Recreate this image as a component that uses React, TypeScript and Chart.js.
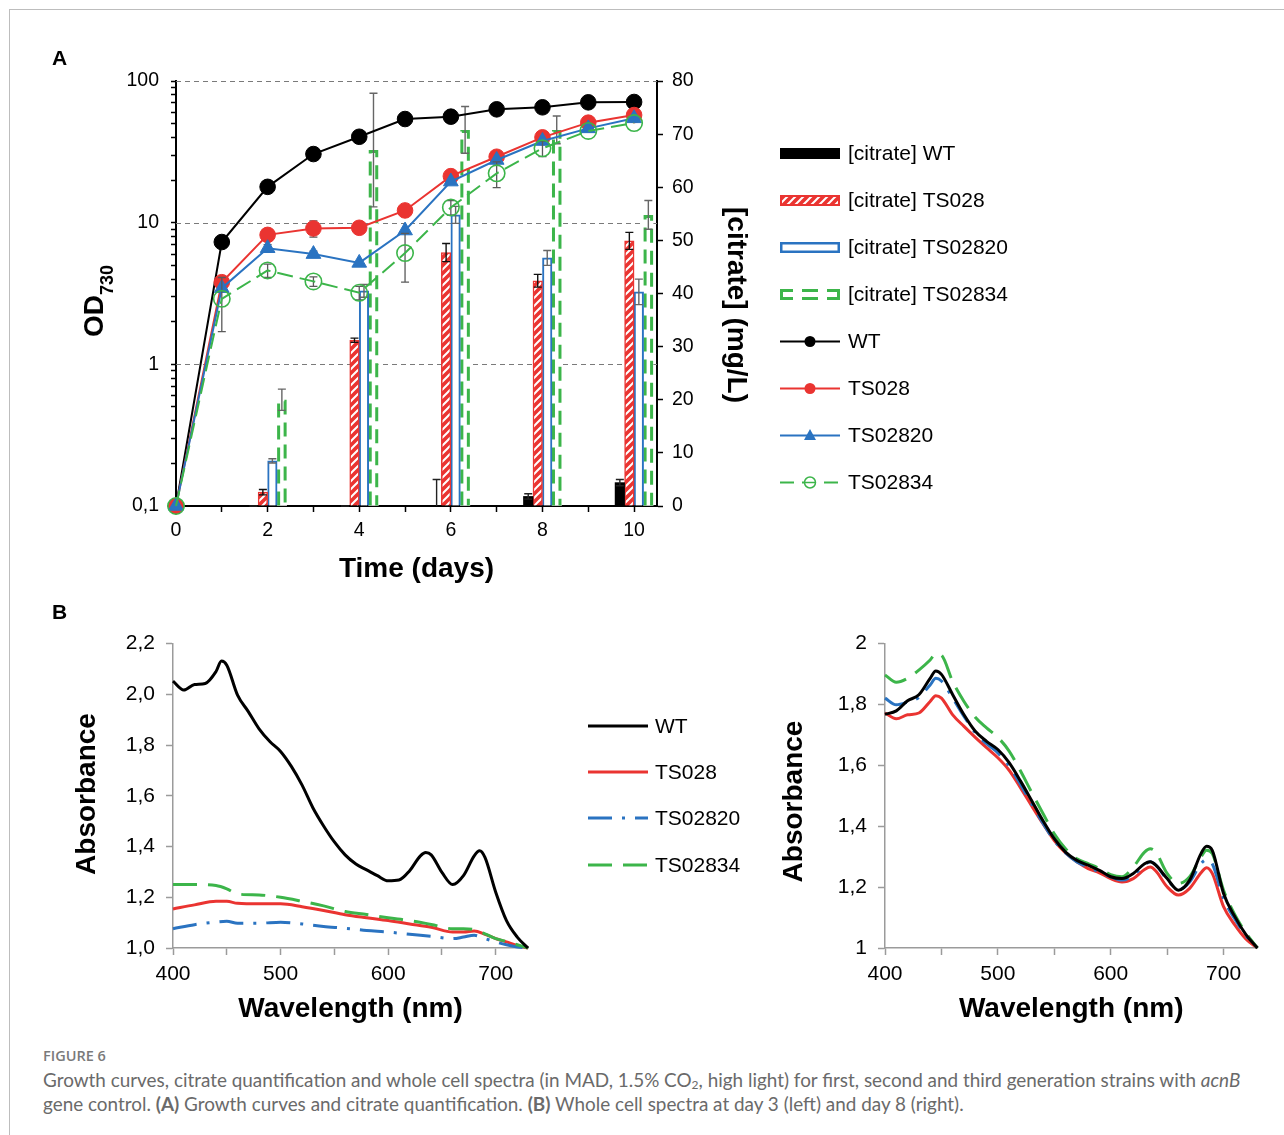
import React, { useEffect, useRef } from "react";
import { Chart, registerables } from "chart.js";

Chart.register(...registerables);

const FONT = '"Liberation Sans", Arial, Helvetica, sans-serif';
Chart.defaults.font.family = FONT;
Chart.defaults.color = "#000";

const RED = "#ea3431";
const BLUE = "#2a73c1";
const GREEN = "#3cb54a";
const AXIS_GRAY = "#9b9b9b";

// ---------- Panel A: growth (OD730, log axis) ----------
const days = [0, 1, 2, 3, 4, 5, 6, 7, 8, 9, 10];
const odWT = [0.1, 7.3, 17.9, 30.5, 40.4, 53.9, 56.0, 63.1, 65.2, 70.7, 71.1];
const odTS028 = [0.1, 3.8, 8.2, 9.1, 9.2, 12.2, 21.3, 29.2, 40.0, 50.8, 57.5];
const odTS028Err = [0, 0, 0.3, 1.2, 0, 0, 0, 0, 0, 0, 0];
const odTS02820 = [0.1, 3.45, 6.6, 6.0, 5.2, 8.8, 19.5, 27.7, 37.7, 46.3, 54.5];
const odTS02820Err = [0, 0, 0.4, 0.3, 0, 0, 0, 0, 0, 0, 0];
const odTS02834 = [0.1, 2.9, 4.6, 3.85, 3.2, 6.1, 12.8, 22.3, 33.5, 44.4, 50.5];
const odTS02834Err = [0, 1.2, 0.5, 0.3, 0.35, 2.3, 1.5, 4.6, 4.2, 0, 0];

// ---------- Panel A: citrate bars (mg/L) ----------
const barDays = [2, 4, 6, 8, 10];
const citWT = [0, 0, 0, 1.8, 4.4];
const citWTErr = [0, 0, 5, 0.5, 0.6];
const citTS028 = [2.6, 31.2, 47.7, 42.4, 49.9];
const citTS028Err = [0.5, 0.4, 1.7, 1.2, 1.6];
const citTS02820 = [8.5, 40.5, 54.8, 46.7, 40.3];
const citTS02820Err = [0.4, 1.2, 1.6, 1.4, 2.4];
const citTS02834 = [20.0, 67.0, 70.8, 70.8, 54.8];
const citTS02834Err = [2.0, 10.7, 4.4, 2.6, 2.7];

// ---------- Panel A ticks ----------
const dayTicks = [0, 1, 2, 3, 4, 5, 6, 7, 8, 9, 10];
const dayTickLabels = ["0", "", "2", "", "4", "", "6", "", "8", "", "10"];
const odDecades = [0.1, 1, 10, 100];
const odDecadeLabels = ["0,1", "1", "10", "100"];
const odMantissas = [1, 2, 3, 4, 5, 6, 7, 8, 9];
const citTicks = [0, 10, 20, 30, 40, 50, 60, 70, 80];
const citTickLabels = ["0", "10", "20", "30", "40", "50", "60", "70", "80"];

// ---------- Panel B: spectra ----------
const wlFine = [400, 410, 420, 430, 440, 445, 450, 460, 470, 480, 490, 500, 510, 520, 530, 540, 550, 560, 570, 580, 590, 600, 610, 620, 630, 635, 640, 650, 660, 670, 680, 685, 690, 700, 710, 720, 730];
const wlCoarse = [400, 420, 440, 450, 460, 480, 500, 520, 540, 560, 580, 600, 620, 640, 660, 670, 680, 690, 700, 710, 720, 730];

const day3WT = [2.052, 2.017, 2.039, 2.043, 2.09, 2.131, 2.115, 1.997, 1.932, 1.864, 1.814, 1.775, 1.716, 1.642, 1.553, 1.481, 1.418, 1.367, 1.331, 1.308, 1.285, 1.265, 1.268, 1.305, 1.363, 1.376, 1.367, 1.298, 1.25, 1.285, 1.363, 1.383, 1.357, 1.22, 1.108, 1.043, 1.0];
const day3TS028 = [1.154, 1.17, 1.184, 1.184, 1.176, 1.174, 1.174, 1.163, 1.148, 1.131, 1.119, 1.108, 1.095, 1.082, 1.063, 1.063, 1.067, 1.054, 1.037, 1.024, 1.01, 1.0];
const day3TS02820 = [1.076, 1.092, 1.102, 1.105, 1.098, 1.098, 1.102, 1.095, 1.085, 1.078, 1.069, 1.063, 1.054, 1.046, 1.037, 1.043, 1.05, 1.037, 1.024, 1.013, 1.004, 1.0];
const day3TS02834 = [1.25, 1.25, 1.246, 1.233, 1.213, 1.209, 1.2, 1.184, 1.166, 1.144, 1.132, 1.119, 1.108, 1.093, 1.076, 1.076, 1.072, 1.056, 1.037, 1.026, 1.013, 1.0];

const day8WT = [1.768, 1.779, 1.812, 1.832, 1.886, 1.91, 1.899, 1.832, 1.766, 1.712, 1.679, 1.652, 1.609, 1.549, 1.484, 1.418, 1.359, 1.315, 1.288, 1.272, 1.255, 1.234, 1.228, 1.245, 1.277, 1.283, 1.272, 1.228, 1.19, 1.223, 1.31, 1.334, 1.321, 1.179, 1.103, 1.043, 1.0];
const day8TS028 = [1.772, 1.753, 1.766, 1.772, 1.81, 1.829, 1.821, 1.766, 1.728, 1.692, 1.658, 1.625, 1.584, 1.527, 1.467, 1.408, 1.353, 1.312, 1.283, 1.261, 1.247, 1.228, 1.217, 1.228, 1.258, 1.266, 1.253, 1.201, 1.174, 1.196, 1.247, 1.264, 1.245, 1.136, 1.076, 1.029, 1.0];
const day8TS02820 = [1.821, 1.799, 1.808, 1.823, 1.864, 1.886, 1.877, 1.821, 1.761, 1.707, 1.671, 1.641, 1.598, 1.538, 1.473, 1.41, 1.353, 1.312, 1.283, 1.266, 1.25, 1.234, 1.223, 1.239, 1.272, 1.283, 1.272, 1.225, 1.192, 1.217, 1.277, 1.29, 1.277, 1.163, 1.095, 1.04, 1.0];
const day8TS02834 = [1.897, 1.873, 1.886, 1.913, 1.946, 1.967, 1.962, 1.875, 1.81, 1.758, 1.723, 1.692, 1.647, 1.582, 1.511, 1.442, 1.375, 1.326, 1.293, 1.277, 1.261, 1.241, 1.234, 1.266, 1.315, 1.326, 1.315, 1.245, 1.212, 1.234, 1.299, 1.321, 1.31, 1.19, 1.109, 1.049, 1.0];

const wlTicks = [400, 450, 500, 550, 600, 650, 700];
const wlTickLabels = ["400", "", "500", "", "600", "", "700"];
const absLeftTicks = [1.0, 1.2, 1.4, 1.6, 1.8, 2.0, 2.2];
const absLeftLabels = ["1,0", "1,2", "1,4", "1,6", "1,8", "2,0", "2,2"];
const absRightTicks = [1.0, 1.2, 1.4, 1.6, 1.8, 2.0];
const absRightLabels = ["1", "1,2", "1,4", "1,6", "1,8", "2"];

const strainLabels = ["WT", "TS028", "TS02820", "TS02834"];

// ---------- helpers ----------
let hatchPattern: any = null;
function getHatch(): any {
  if (hatchPattern) return hatchPattern;
  const c = document.createElement("canvas");
  c.width = 8;
  c.height = 8;
  const g = c.getContext("2d") as CanvasRenderingContext2D;
  g.fillStyle = RED;
  g.fillRect(0, 0, 8, 8);
  g.strokeStyle = "#ffffff";
  g.lineWidth = 2;
  g.beginPath();
  g.moveTo(0, 8);
  g.lineTo(8, 0);
  g.moveTo(-2, 2);
  g.lineTo(2, -2);
  g.moveTo(6, 10);
  g.lineTo(10, 6);
  g.stroke();
  hatchPattern = g.createPattern(c, "repeat");
  return hatchPattern;
}

function errBar(ctx: CanvasRenderingContext2D, x: number, yTop: number, yBot: number, capTop: boolean, capBot: boolean, color: string, lw: number, cap: number) {
  ctx.save();
  ctx.setLineDash([]);
  ctx.strokeStyle = color;
  ctx.lineWidth = lw;
  ctx.beginPath();
  ctx.moveTo(x, yTop);
  ctx.lineTo(x, yBot);
  if (capTop) {
    ctx.moveTo(x - cap / 2, yTop);
    ctx.lineTo(x + cap / 2, yTop);
  }
  if (capBot) {
    ctx.moveTo(x - cap / 2, yBot);
    ctx.lineTo(x + cap / 2, yBot);
  }
  ctx.stroke();
  ctx.restore();
}

const lineErrors: Record<string, number[]> = {
  TS028: odTS028Err,
  TS02820: odTS02820Err,
  TS02834: odTS02834Err,
};
const barErrors: Record<string, { err: number[]; color: string }> = {
  "[citrate] WT": { err: citWTErr, color: "#222" },
  "[citrate] TS028": { err: citTS028Err, color: "#111" },
  "[citrate] TS02820": { err: citTS02820Err, color: "#666" },
  "[citrate] TS02834": { err: citTS02834Err, color: "#666" },
};

function drawRotated(ctx: CanvasRenderingContext2D, text: string, x: number, y: number, angle: number, font: string) {
  ctx.save();
  ctx.translate(x, y);
  ctx.rotate(angle);
  ctx.font = font;
  ctx.fillStyle = "#000";
  ctx.textAlign = "center";
  ctx.textBaseline = "alphabetic";
  ctx.fillText(text, 0, 0);
  ctx.restore();
}

// ---------- Panel A plugin ----------
const panelAPlugin = {
  id: "panelA",
  beforeDatasetsDraw(chart: any) {
    const ctx = chart.ctx as CanvasRenderingContext2D;
    const y = chart.scales.y;
    const { left, right } = chart.chartArea;
    ctx.save();
    ctx.strokeStyle = "#7a7a7a";
    ctx.lineWidth = 1.2;
    ctx.setLineDash([5, 4]);
    [1, 10, 100].forEach((v) => {
      const py = Math.round(y.getPixelForValue(v)) + 0.5;
      ctx.beginPath();
      ctx.moveTo(left, py);
      ctx.lineTo(right, py);
      ctx.stroke();
    });
    ctx.restore();
  },
  beforeDatasetDraw(chart: any, args: any) {
    const ds = chart.data.datasets[args.index];
    const errs = lineErrors[ds.label];
    if (!errs || ds.type !== "line") return;
    const ctx = chart.ctx as CanvasRenderingContext2D;
    const y = chart.scales.y;
    args.meta.data.forEach((pt: any, i: number) => {
      const e = errs[i];
      if (!e) return;
      const v = ds.data[i].y;
      errBar(ctx, pt.x, y.getPixelForValue(v + e), y.getPixelForValue(v - e), true, true, "#5a5a5a", 1.3, 8);
    });
  },
  afterDatasetDraw(chart: any, args: any) {
    const ds = chart.data.datasets[args.index];
    const spec = barErrors[ds.label];
    if (!spec) return;
    const ctx = chart.ctx as CanvasRenderingContext2D;
    const y1 = chart.scales.y1;
    args.meta.data.forEach((el: any, i: number) => {
      const p = el.getProps(["x", "y", "base", "width"], true);
      if (ds.label === "[citrate] TS02834") {
        const x0 = p.x - p.width / 2 + 1.5;
        const x1 = p.x + p.width / 2 - 1.5;
        const top = p.y + 1.5;
        ctx.save();
        ctx.strokeStyle = GREEN;
        ctx.lineWidth = 3;
        ctx.setLineDash([14, 8]);
        ctx.beginPath();
        ctx.moveTo(x0, p.base);
        ctx.lineTo(x0, top);
        ctx.lineTo(x1, top);
        ctx.lineTo(x1, p.base);
        ctx.stroke();
        ctx.restore();
      }
      const v = ds.data[i].y;
      const e = spec.err[i];
      const low = Math.max(0, v - e);
      errBar(ctx, p.x, y1.getPixelForValue(v + e), y1.getPixelForValue(low), true, v - e >= 0, spec.color, 1.4, 8);
    });
  },
  afterDraw(chart: any) {
    const ctx = chart.ctx as CanvasRenderingContext2D;
    const { left, right } = chart.chartArea;
    ctx.save();
    ctx.fillStyle = "#000";
    ctx.font = `bold 28px ${FONT}`;
    ctx.textAlign = "center";
    ctx.textBaseline = "alphabetic";
    ctx.fillText("Time (days)", (left + right) / 2, 577);
    ctx.restore();

    // OD730 (rotated, with subscript)
    ctx.save();
    ctx.translate(103, 301);
    ctx.rotate(-Math.PI / 2);
    ctx.fillStyle = "#000";
    ctx.textBaseline = "alphabetic";
    ctx.textAlign = "left";
    ctx.font = `bold 28px ${FONT}`;
    const wOD = ctx.measureText("OD").width;
    ctx.font = `bold 18px ${FONT}`;
    const wSub = ctx.measureText("730").width;
    const start = -(wOD + wSub) / 2;
    ctx.font = `bold 28px ${FONT}`;
    ctx.fillText("OD", start, 0);
    ctx.font = `bold 18px ${FONT}`;
    ctx.fillText("730", start + wOD, 10);
    ctx.restore();

    drawRotated(ctx, "[citrate] (mg/L)", 728, 305, Math.PI / 2, `bold 28px ${FONT}`);

    // legend
    const lx = 780;
    const lw = 60;
    const tx = 848;
    const rows = [153.5, 200.5, 247.5, 294.5, 341.5, 388.5, 435.5, 482.5];
    const labels = chart.data.datasets.map((d: any) => d.label);
    ctx.save();
    ctx.font = `21px ${FONT}`;
    ctx.fillStyle = "#000";
    ctx.textAlign = "left";
    ctx.textBaseline = "middle";
    labels.forEach((lab: string, i: number) => ctx.fillText(lab, tx, rows[i] + 1));
    ctx.restore();

    const h = 11;
    ctx.save();
    ctx.fillStyle = "#000";
    ctx.fillRect(lx, rows[0] - h / 2, lw, h);
    ctx.fillStyle = getHatch();
    ctx.fillRect(lx, rows[1] - h / 2, lw, h);
    ctx.strokeStyle = RED;
    ctx.lineWidth = 2;
    ctx.strokeRect(lx + 1, rows[1] - h / 2 + 1, lw - 2, h - 2);
    ctx.strokeStyle = BLUE;
    ctx.lineWidth = 2.5;
    ctx.strokeRect(lx + 1.25, rows[2] - h / 2 + 1.25, lw - 2.5, h - 2.5);
    // green dashed box: brackets at ends, dashes in the middle
    ctx.strokeStyle = GREEN;
    ctx.lineWidth = 3;
    const gt = rows[3] - h / 2 + 1.5;
    const gb = rows[3] + h / 2 - 1.5;
    ctx.beginPath();
    ctx.moveTo(lx + 13, gt);
    ctx.lineTo(lx + 1.5, gt);
    ctx.lineTo(lx + 1.5, gb);
    ctx.lineTo(lx + 13, gb);
    ctx.moveTo(lx + 22, gt);
    ctx.lineTo(lx + 38, gt);
    ctx.moveTo(lx + 22, gb);
    ctx.lineTo(lx + 38, gb);
    ctx.moveTo(lx + 47, gt);
    ctx.lineTo(lx + lw - 1.5, gt);
    ctx.lineTo(lx + lw - 1.5, gb);
    ctx.lineTo(lx + 47, gb);
    ctx.stroke();
    ctx.restore();

    const lineRow = (y: number, color: string, dash: number[], marker: string) => {
      ctx.save();
      ctx.strokeStyle = color;
      ctx.lineWidth = 2;
      ctx.setLineDash(dash);
      ctx.beginPath();
      ctx.moveTo(lx, y);
      ctx.lineTo(lx + lw, y);
      ctx.stroke();
      ctx.setLineDash([]);
      const cx = lx + lw / 2;
      ctx.fillStyle = color;
      if (marker === "circle") {
        ctx.beginPath();
        ctx.arc(cx, y, 5.5, 0, Math.PI * 2);
        ctx.fill();
      } else if (marker === "triangle") {
        ctx.beginPath();
        ctx.moveTo(cx, y - 6.5);
        ctx.lineTo(cx + 6, y + 4.5);
        ctx.lineTo(cx - 6, y + 4.5);
        ctx.closePath();
        ctx.fill();
      } else {
        ctx.fillStyle = "#fff";
        ctx.beginPath();
        ctx.arc(cx, y, 5.5, 0, Math.PI * 2);
        ctx.fill();
        ctx.lineWidth = 1.5;
        ctx.stroke();
        ctx.beginPath();
        ctx.moveTo(cx - 5.5, y);
        ctx.lineTo(cx + 5.5, y);
        ctx.stroke();
      }
      ctx.restore();
    };
    lineRow(rows[4], "#000", [], "circle");
    lineRow(rows[5], RED, [], "circle");
    lineRow(rows[6], BLUE, [], "triangle");
    lineRow(rows[7], GREEN, [14, 8], "open");
  },
};

function buildA(): any {
  const hatch = getHatch();
  const bar = (label: string, vals: number[], extra: any) => ({
    type: "bar",
    label,
    xAxisID: "x",
    yAxisID: "y1",
    barThickness: 9.5,
    order: 10,
    borderSkipped: "start",
    data: barDays.map((d, i) => ({ x: d, y: vals[i] })),
    ...extra,
  });
  const line = (label: string, vals: number[], extra: any) => ({
    type: "line",
    label,
    xAxisID: "x",
    yAxisID: "y",
    clip: false,
    borderWidth: 2,
    tension: 0,
    data: days.map((d, i) => ({ x: d, y: vals[i] })),
    ...extra,
  });
  return {
    type: "bar",
    data: {
      datasets: [
        bar("[citrate] WT", citWT, { backgroundColor: "#000", borderWidth: 0 }),
        bar("[citrate] TS028", citTS028, { backgroundColor: hatch, borderColor: RED, borderWidth: 1.5 }),
        bar("[citrate] TS02820", citTS02820, { backgroundColor: "#fff", borderColor: BLUE, borderWidth: 2 }),
        bar("[citrate] TS02834", citTS02834, { backgroundColor: "#fff", borderWidth: 0 }),
        line("WT", odWT, { order: 4, borderColor: "#000", pointStyle: "circle", pointRadius: 7.8, pointBackgroundColor: "#000", pointBorderColor: "#000", pointBorderWidth: 1 }),
        line("TS028", odTS028, { order: 3, borderColor: RED, pointStyle: "circle", pointRadius: 7.8, pointBackgroundColor: RED, pointBorderColor: RED, pointBorderWidth: 1 }),
        line("TS02820", odTS02820, { order: 2, borderColor: BLUE, pointStyle: "triangle", pointRadius: 8.5, pointBackgroundColor: BLUE, pointBorderColor: BLUE, pointBorderWidth: 1 }),
        line("TS02834", odTS02834, { order: 1, borderColor: GREEN, borderDash: [16, 7], pointStyle: "circle", pointRadius: 8.2, pointBackgroundColor: "rgba(255,255,255,0)", pointBorderColor: GREEN, pointBorderWidth: 1.6 }),
      ],
    },
    options: {
      responsive: false,
      animation: false,
      events: [],
      layout: { padding: { left: 60, top: 81, right: 567, bottom: 0 } },
      plugins: { legend: { display: false }, tooltip: { enabled: false } },
      scales: {
        x: {
          type: "linear",
          position: "bottom",
          min: 0,
          max: 10.5,
          offset: false,
          afterBuildTicks: (s: any) => {
            s.ticks = dayTicks.map((v) => ({ value: v }));
          },
          ticks: {
            autoSkip: false,
            maxRotation: 0,
            padding: 7,
            font: { size: 19.5 },
            color: "#000",
            callback: (_v: any, i: number) => dayTickLabels[i],
          },
          grid: { drawOnChartArea: false, offset: false, tickLength: 6, tickColor: "#000", tickWidth: 1.5 },
          border: { color: "#000", width: 2 },
          afterFit: (s: any) => {
            s.height = 94;
          },
        },
        y: {
          type: "logarithmic",
          position: "left",
          min: 0.1,
          max: 100,
          afterBuildTicks: (s: any) => {
            const vals: number[] = [];
            odDecades.slice(0, 3).forEach((d) => odMantissas.forEach((m) => vals.push(Number((m * d).toPrecision(6)))));
            vals.push(100);
            s.ticks = vals.map((v) => ({ value: v }));
          },
          ticks: {
            autoSkip: false,
            padding: 12,
            font: { size: 19.5 },
            color: "#000",
            callback: (v: any) => {
              const k = odDecades.findIndex((d) => Math.abs(d - Number(v)) < 1e-9);
              return k >= 0 ? odDecadeLabels[k] : "";
            },
          },
          grid: { drawOnChartArea: false, tickLength: 5, tickColor: "#000", tickWidth: 1.5 },
          border: { color: "#000", width: 2 },
          afterFit: (s: any) => {
            s.width = 116;
          },
        },
        y1: {
          type: "linear",
          position: "right",
          min: 0,
          max: 80,
          afterBuildTicks: (s: any) => {
            s.ticks = citTicks.map((v) => ({ value: v }));
          },
          ticks: {
            autoSkip: false,
            padding: 9,
            font: { size: 19.5 },
            color: "#000",
            callback: (_v: any, i: number) => citTickLabels[i],
          },
          grid: { drawOnChartArea: false, tickLength: 6, tickColor: "#000", tickWidth: 1.5 },
          border: { color: "#000", width: 2 },
          afterFit: (s: any) => {
            s.width = 60;
          },
        },
      },
    },
    plugins: [panelAPlugin],
  };
}

// ---------- Panel B ----------
function makeSpectraPlugin(absX: number, absY: number, showLegend: boolean) {
  return {
    id: "spectra",
    afterDraw(chart: any) {
      const ctx = chart.ctx as CanvasRenderingContext2D;
      const { left, right } = chart.chartArea;
      drawRotated(ctx, "Absorbance", absX, absY, -Math.PI / 2, `bold 28px ${FONT}`);
      ctx.save();
      ctx.font = `bold 28px ${FONT}`;
      ctx.fillStyle = "#000";
      ctx.textAlign = "center";
      ctx.textBaseline = "alphabetic";
      ctx.fillText("Wavelength (nm)", (left + right) / 2, 397);
      ctx.restore();
      if (!showLegend) return;
      const rows = [106, 152, 198, 245];
      chart.data.datasets.forEach((ds: any, i: number) => {
        const y = rows[i];
        ctx.save();
        ctx.strokeStyle = ds.borderColor;
        ctx.lineWidth = 3;
        ctx.setLineDash(ds.borderDash || []);
        ctx.beginPath();
        ctx.moveTo(588, y);
        ctx.lineTo(648, y);
        ctx.stroke();
        ctx.setLineDash([]);
        ctx.font = `21px ${FONT}`;
        ctx.fillStyle = "#000";
        ctx.textAlign = "left";
        ctx.textBaseline = "middle";
        ctx.fillText(ds.label, 655, y + 1);
        ctx.restore();
      });
    },
  };
}

function buildSpectra(opts: {
  series: { wl: number[]; vals: number[] }[];
  yMax: number;
  yTicks: number[];
  yLabels: string[];
  padding: any;
  yWidth: number;
  absX: number;
  absY: number;
  legend: boolean;
}): any {
  const styles = [
    { borderColor: "#000", borderDash: [] as number[] },
    { borderColor: RED, borderDash: [] as number[] },
    { borderColor: BLUE, borderDash: [24, 10, 3, 10] },
    { borderColor: GREEN, borderDash: [24, 11] },
  ];
  return {
    type: "line",
    data: {
      datasets: opts.series.map((s, k) => ({
        label: strainLabels[k],
        data: s.wl.map((w, i) => ({ x: w, y: s.vals[i] })),
        borderColor: styles[k].borderColor,
        borderDash: styles[k].borderDash,
        borderWidth: 3,
        pointRadius: 0,
        cubicInterpolationMode: "monotone",
        clip: false,
        order: k === 0 ? 0 : 4 - k,
      })),
    },
    options: {
      responsive: false,
      animation: false,
      events: [],
      layout: { padding: opts.padding },
      plugins: { legend: { display: false }, tooltip: { enabled: false } },
      scales: {
        x: {
          type: "linear",
          min: 400,
          max: 730,
          afterBuildTicks: (s: any) => {
            s.ticks = wlTicks.map((v) => ({ value: v }));
          },
          ticks: {
            autoSkip: false,
            maxRotation: 0,
            padding: 7,
            font: { size: 21 },
            color: "#000",
            callback: (_v: any, i: number) => wlTickLabels[i],
          },
          grid: { drawOnChartArea: false, tickLength: 7, tickColor: AXIS_GRAY, tickWidth: 1.5 },
          border: { color: AXIS_GRAY, width: 1.5 },
          afterFit: (s: any) => {
            s.height = 92;
          },
        },
        y: {
          type: "linear",
          min: 1,
          max: opts.yMax,
          afterBuildTicks: (s: any) => {
            s.ticks = opts.yTicks.map((v) => ({ value: v }));
          },
          ticks: {
            autoSkip: false,
            padding: 11,
            font: { size: 21 },
            color: "#000",
            callback: (_v: any, i: number) => opts.yLabels[i],
          },
          grid: { drawOnChartArea: false, tickLength: 7, tickColor: AXIS_GRAY, tickWidth: 1.5 },
          border: { color: AXIS_GRAY, width: 1.5 },
          afterFit: (s: any) => {
            s.width = opts.yWidth;
          },
        },
      },
    },
    plugins: [makeSpectraPlugin(opts.absX, opts.absY, opts.legend)],
  };
}

function buildBLeft(): any {
  return buildSpectra({
    series: [
      { wl: wlFine, vals: day3WT },
      { wl: wlCoarse, vals: day3TS028 },
      { wl: wlCoarse, vals: day3TS02820 },
      { wl: wlCoarse, vals: day3TS02834 },
    ],
    yMax: 2.2,
    yTicks: absLeftTicks,
    yLabels: absLeftLabels,
    padding: { left: 60, top: 22, right: 232, bottom: 0 },
    yWidth: 113,
    absX: 95,
    absY: 174,
    legend: true,
  });
}

function buildBRight(): any {
  return buildSpectra({
    series: [
      { wl: wlFine, vals: day8WT },
      { wl: wlFine, vals: day8TS028 },
      { wl: wlFine, vals: day8TS02820 },
      { wl: wlFine, vals: day8TS02834 },
    ],
    yMax: 2.0,
    yTicks: absRightTicks,
    yLabels: absRightLabels,
    padding: { left: 60, top: 22, right: 26.6, bottom: 0 },
    yWidth: 65,
    absX: 41.7,
    absY: 181.5,
    legend: false,
  });
}

function ChartCanvas(props: { left: number; top: number; width: number; height: number; build: () => any }) {
  const ref = useRef<HTMLCanvasElement | null>(null);
  useEffect(() => {
    if (!ref.current) return;
    const chart = new Chart(ref.current, props.build());
    return () => chart.destroy();
  }, []);
  return (
    <canvas
      ref={ref}
      width={props.width}
      height={props.height}
      style={{ position: "absolute", left: props.left, top: props.top, width: props.width, height: props.height }}
    />
  );
}

export default function App() {
  return (
    <div
      style={{
        position: "absolute",
        left: 0,
        top: 0,
        width: 1284,
        height: 1135,
        overflow: "hidden",
        background: "#fff",
      }}
    >
      <div
        style={{
          position: "absolute",
          left: 9,
          top: 9,
          width: 1300,
          height: 1200,
          borderTop: "1px solid #bdbdbd",
          borderLeft: "1px solid #bdbdbd",
        }}
      />
      <ChartCanvas left={0} top={0} width={1284} height={600} build={buildA} />
      <ChartCanvas left={0} top={620} width={760} height={420} build={buildBLeft} />
      <ChartCanvas left={760} top={620} width={524} height={420} build={buildBRight} />
      <div style={{ position: "absolute", left: 52, top: 47, font: `bold 21px ${FONT}`, lineHeight: "21px", color: "#000" }}>A</div>
      <div style={{ position: "absolute", left: 52, top: 601, font: `bold 21px ${FONT}`, lineHeight: "21px", color: "#000" }}>B</div>
      <div
        style={{
          position: "absolute",
          left: 43,
          top: 1046,
          font: '600 14.5px "Open Sans", Lato, sans-serif',
          lineHeight: "20px",
          color: "#7a7a7a",
          whiteSpace: "nowrap",
        }}
      >
        FIGURE 6
      </div>
      <div
        style={{
          position: "absolute",
          left: 43,
          top: 1068,
          font: '18.9px Lato, "Open Sans", sans-serif',
          lineHeight: "24px",
          color: "#6a6a6a",
          whiteSpace: "nowrap",
        }}
      >
        Growth curves, citrate quantification and whole cell spectra (in MAD, 1.5% CO
        <sub style={{ fontSize: "12px", verticalAlign: "-2px", lineHeight: 0 }}>2</sub>, high light) for first, second and third
        generation strains with <i>acnB</i>
        <br />
        gene control. <b style={{ fontWeight: 700 }}>(A)</b> Growth curves and citrate quantification.{" "}
        <b style={{ fontWeight: 700 }}>(B)</b> Whole cell spectra at day 3 (left) and day 8 (right).
      </div>
    </div>
  );
}
